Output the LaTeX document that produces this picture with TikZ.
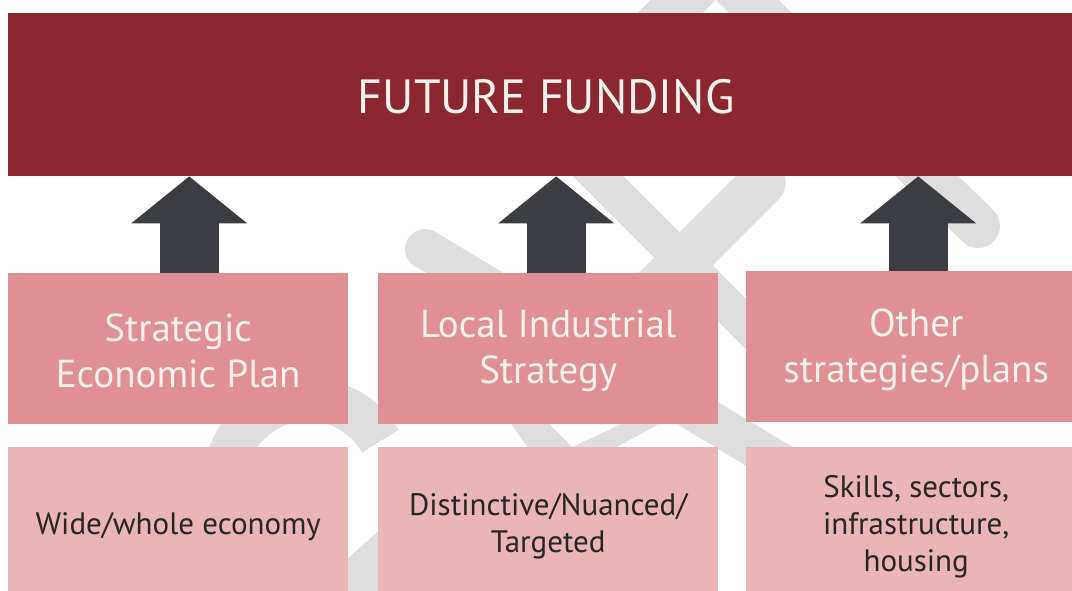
\documentclass[tikz,border=0pt]{standalone}
\usepackage{fontspec}
\setmainfont{PT Sans}
\usetikzlibrary{arrows.meta}

\definecolor{fundred}{HTML}{8B2730}
\definecolor{planpink}{HTML}{E08F94}
\definecolor{notepink}{HTML}{EBB5B7}
\definecolor{arrowgrey}{HTML}{3C3D42}
\definecolor{logogrey}{HTML}{DEDEDE}
\definecolor{lighttext}{HTML}{F4F0EC}
\definecolor{darktext}{HTML}{262626}

% invisible rule that pushes the first line down
\newcommand{\dropline}[1]{\rule{0pt}{#1}}

\tikzset{
  band/.style={logogrey, line width=#1},
  fundbox/.style={fill=fundred, text=lighttext, anchor=north west, inner sep=0pt,
    minimum width=1076pt, minimum height=163pt, font=\fontsize{48}{58}\selectfont},
  planbox/.style={fill=planpink, text=lighttext, anchor=north west, inner sep=0pt,
    minimum width=340pt, minimum height=151pt, align=center, font=\fontsize{39}{46}\selectfont},
  notebox/.style={fill=notepink, text=darktext, anchor=north west, inner sep=0pt,
    minimum width=340pt, minimum height=144pt, align=center, font=\fontsize{31}{37}\selectfont},
  upflow/.style={arrowgrey, line width=59pt,
    -{Triangle[width=116pt,length=47pt,line width=0pt]}},
}

\begin{document}
\begin{tikzpicture}[x=1pt,y=-1pt]
\useasboundingbox (0,0) rectangle (1072,591);
\clip (0,0) rectangle (1072,591);

% logo in the background
\draw[band=46, line cap=round] (700,-17) -- (560,123);
\draw[band=44, line cap=round] (732,-15) -- (978,226);
\draw[band=47, line cap=round] (640,305) -- (762,183);
\draw[band=36] (540,118) -- (800,378);
\draw[band=40, line cap=round] (425,249) -- (900,535);
\draw[band=43] (308,483) ++(-30:83.5) arc[start angle=-30, end angle=-200, radius=83.5];
\draw[band=44, line cap=round] (305,626) -- (469,480);
\fill[logogrey] (503,412) -- (537,412) -- (572,447) -- (647,412) -- (681,412)
  -- (593,460) -- (536,460) -- cycle;

\node[fundbox] (fund) at (8,13) {\dropline{38pt}FUTURE FUNDING};

\node[planbox] (sep) at (8,273) {\dropline{32pt}Strategic\\Economic Plan};
\node[planbox] (lis) at (378,273) {\dropline{32pt}Local Industrial\\Strategy};
\node[planbox] (osp) at (746,271) {\dropline{34pt}Other\\strategies/plans};

\node[notebox] (wwe) at (8,447) {\dropline{37pt}Wide/whole economy};
\node[notebox] (dnt) at (378,447) {\dropline{36pt}Distinctive/Nuanced/\\Targeted};
\node[notebox] (ssi) at (746,447) {\dropline{37pt}Skills, sectors,\\infrastructure,\\housing};

\foreach \n/\s in {sep/11,lis/8,osp/2}
{
    \draw[upflow] ([xshift=\s pt]\n.north) -- ([xshift=\s pt]\n.north |- fund.south);
}

\end{tikzpicture}
\end{document}
